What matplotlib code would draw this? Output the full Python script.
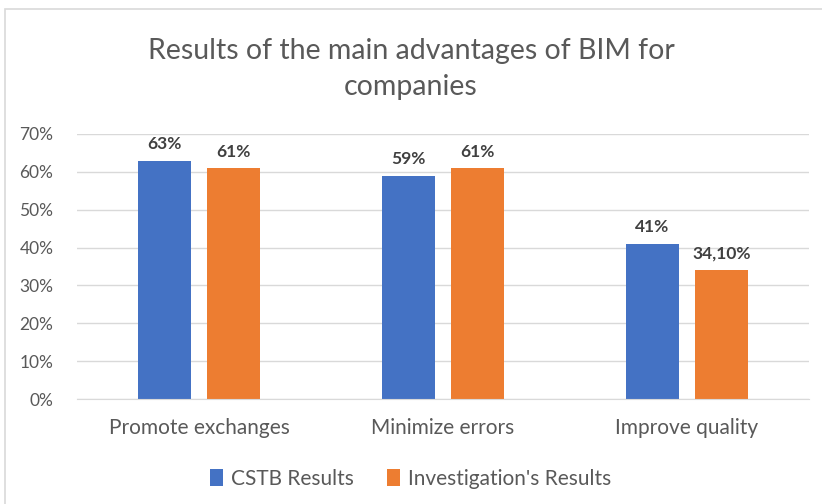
import numpy as np
import matplotlib.pyplot as plt
from matplotlib.patches import Rectangle
from matplotlib.ticker import PercentFormatter

categories = ['Promote exchanges', 'Minimize errors', 'Improve quality']
cstb = [0.63, 0.59, 0.41]
investigation = [0.61, 0.61, 0.341]
cstb_labels = ['63%', '59%', '41%']
inv_labels = ['61%', '61%', '34,10%']

blue = '#4472C4'
orange = '#ED7D31'
text_gray = '#595959'
font = ['Lato', 'DejaVu Sans']

fig = plt.figure(figsize=(8.22, 5.04), dpi=100)

# chart frame (light gray border like the Excel screenshot)
fig.patches.append(Rectangle((5 / 822, -0.05), 1.2, 1 - 9 / 504 + 0.05,
                             transform=fig.transFigure, fill=False,
                             edgecolor='#D9D9D9', linewidth=1.2))

ax = fig.add_axes([77 / 822, 1 - 399 / 504, 732 / 822, 265 / 504])

x = np.arange(len(categories))
w = 0.22
off = 0.142
b1 = ax.bar(x - off, cstb, w, color=blue, label='CSTB Results')
b2 = ax.bar(x + off, investigation, w, color=orange, label="Investigation's Results")

for bars, labels in [(b1, cstb_labels), (b2, inv_labels)]:
    for bar, lab in zip(bars, labels):
        ax.annotate(lab, (bar.get_x() + bar.get_width() / 2, bar.get_height()),
                    xytext=(0, 6), textcoords='offset points', ha='center',
                    va='bottom', fontsize=12.5, fontweight='bold',
                    color='#404040', family=font)

ax.set_xlim(-0.5, 2.5)
ax.set_ylim(0, 0.7)
ax.set_yticks(np.arange(0, 0.71, 0.1))
ax.yaxis.set_major_formatter(PercentFormatter(1.0, decimals=0))
ax.set_xticks(x)
ax.set_xticklabels(categories)
ax.grid(axis='y', color='#D9D9D9', linewidth=1)
ax.set_axisbelow(True)
for s in ['top', 'right', 'left']:
    ax.spines[s].set_visible(False)
ax.spines['bottom'].set_color('#D9D9D9')
ax.tick_params(length=0, colors=text_gray)
ax.tick_params(axis='x', pad=14, labelsize=15)
ax.tick_params(axis='y', pad=17, labelsize=12.5)
for lab in ax.get_xticklabels() + ax.get_yticklabels():
    lab.set_family(font)

fig.text(0.5, 1 - 69 / 504, 'Results of the main advantages of BIM for\ncompanies',
         ha='center', va='center', fontsize=20.5, color=text_gray, family=font,
         linespacing=1.5)

fig.legend(loc='center', bbox_to_anchor=(0.5, 1 - 479 / 504), ncol=2,
           frameon=False, prop={'family': font, 'size': 15}, labelcolor=text_gray,
           handlelength=0.6, handleheight=0.9, handletextpad=0.4, columnspacing=1.6)

fig.savefig('out.png', dpi=100)
